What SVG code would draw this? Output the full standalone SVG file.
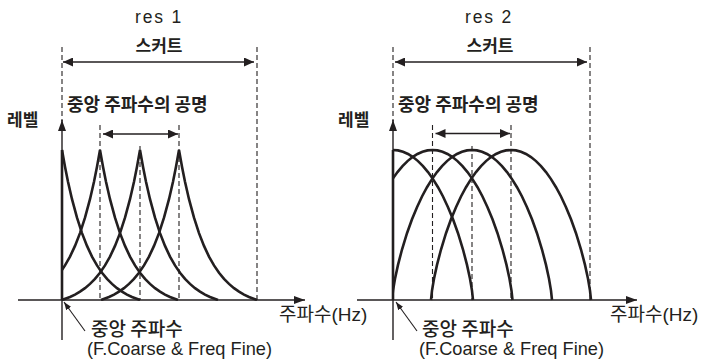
<svg xmlns="http://www.w3.org/2000/svg" xmlns:xlink="http://www.w3.org/1999/xlink" width="701" height="360" viewBox="0 0 701 360">
<style>
.curve{fill:none;stroke:#231f20;stroke-width:2.6;stroke-linejoin:miter}
.axis{fill:none;stroke:#231f20;stroke-width:1.4}
.thick{fill:none;stroke:#231f20;stroke-width:2.6}
.dash{fill:none;stroke:#231f20;stroke-width:1.1;stroke-dasharray:5 3}
.dim{fill:none;stroke:#231f20;stroke-width:1.5;marker-start:url(#ah);marker-end:url(#ah)}
.ptr{fill:none;stroke:#231f20;stroke-width:1.1;marker-end:url(#ph)}
.t{font-family:"Liberation Sans","Noto Sans CJK KR",sans-serif;fill:#231f20}
.kb{font-family:"Noto Sans CJK KR",sans-serif;font-weight:bold;fill:#231f20}
.kr{font-family:"Noto Sans CJK KR",sans-serif;font-weight:500;fill:#231f20}
</style>
<defs>
<marker id="ah" viewBox="0 0 10 9" markerWidth="10" markerHeight="9" refX="10" refY="4.5" orient="auto-start-reverse" markerUnits="userSpaceOnUse"><path d="M0,0 L10,4.5 L0,9 z" fill="#231f20"/></marker>
<marker id="ax" viewBox="0 0 11 8" markerWidth="11" markerHeight="8" refX="11" refY="4" orient="auto" markerUnits="userSpaceOnUse"><path d="M0,0 L11,4 L0,8 z" fill="#231f20"/></marker>
<marker id="ph" viewBox="0 0 8 6" markerWidth="8" markerHeight="6" refX="8" refY="3" orient="auto" markerUnits="userSpaceOnUse"><path d="M0,0 L8,3 L0,6 z" fill="#231f20"/></marker>
<path id="peak" d="M-78,0 L-70,-3 L-65,-5.45 L-60,-8.4 L-55,-11.85 L-50,-16.1 L-45,-21.1 L-40,-27.2 L-35,-34.6 L-30,-43.4 L-25,-54.1 L-20,-66.9 L-15,-82.3 L-10,-100.8 L-6,-118.3 L-3,-133.2 L0,-150 L3,-133.2 L6,-118.3 L10,-100.8 L15,-82.3 L20,-66.9 L25,-54.1 L30,-43.4 L35,-34.6 L40,-27.2 L45,-21.1 L50,-16.1 L55,-11.85 L60,-8.4 L65,-5.45 L70,-3 L78,0"/>
<path id="hump" d="M-80,0 L-79,-9.4 L-77,-21.2 L-74,-35.1 L-70,-50.5 L-65,-66.8 L-60,-80.7 L-55,-92.8 L-50,-103.5 L-45,-112.8 L-40,-120.9 L-35,-127.9 L-30,-133.9 L-25,-138.9 L-20,-142.9 L-15,-146 L-10,-148.2 L-5,-149.6 L0,-150 L5,-149.6 L10,-148.2 L15,-146 L20,-142.9 L25,-138.9 L30,-133.9 L35,-127.9 L40,-120.9 L45,-112.8 L50,-103.5 L55,-92.8 L60,-80.7 L65,-66.8 L70,-50.5 L74,-35.1 L77,-21.2 L79,-9.4 L80,0"/>
<clipPath id="clipL"><rect x="62" y="100" width="260" height="201"/></clipPath>
<clipPath id="clipR"><rect x="393" y="100" width="260" height="201"/></clipPath>
</defs>

<g id="res1">
  <g id="res1-labels">
    <text class="t" x="159" y="23" font-size="17.5" letter-spacing="1.8" text-anchor="middle">res 1</text>
    <text class="kb" x="159" y="52" font-size="17" text-anchor="middle">스커트</text>
    <text class="kb" x="67" y="111" font-size="18">중앙 주파수의 공명</text>
    <text class="kb" x="7" y="126" font-size="17">레벨</text>
    <text class="t" x="279" y="321" font-size="19">주파수(Hz)</text>
    <text class="kr" x="91" y="336" font-size="19">중앙 주파수</text>
    <text class="t" x="87" y="355" font-size="18.2">(F.Coarse &amp; Freq Fine)</text>
  </g>
  <g id="res1-curves" clip-path="url(#clipL)">
    <use href="#peak" x="62" y="300" class="curve"/>
    <use href="#peak" x="100" y="300" class="curve"/>
    <use href="#peak" x="140" y="300" class="curve"/>
    <use href="#peak" x="179" y="300" class="curve"/>
  </g>
  <line class="thick" x1="62" y1="150" x2="62" y2="300"/>
</g>

<g id="res2">
  <g id="res2-labels">
    <text class="t" x="489" y="23" font-size="17.5" letter-spacing="1.8" text-anchor="middle">res 2</text>
    <text class="kb" x="490" y="52" font-size="17" text-anchor="middle">스커트</text>
    <text class="kb" x="398" y="111" font-size="18">중앙 주파수의 공명</text>
    <text class="kb" x="338" y="126" font-size="17">레벨</text>
    <text class="t" x="610" y="321" font-size="19">주파수(Hz)</text>
    <text class="kr" x="422" y="336" font-size="19">중앙 주파수</text>
    <text class="t" x="419" y="355" font-size="18.2">(F.Coarse &amp; Freq Fine)</text>
  </g>
  <g id="res2-curves" clip-path="url(#clipR)">
    <use href="#hump" x="393" y="300" class="curve"/>
    <use href="#hump" x="432.5" y="300" class="curve"/>
    <use href="#hump" x="472" y="300" class="curve"/>
    <use href="#hump" x="511" y="300" class="curve"/>
  </g>
  <line class="thick" x1="393" y1="150" x2="393" y2="300"/>
</g>

<g id="connectors">
  <line class="dash" x1="62" y1="47" x2="62" y2="121"/>
  <line class="dash" x1="100" y1="125" x2="100" y2="300"/>
  <line class="dash" x1="140" y1="146" x2="140" y2="300"/>
  <line class="dash" x1="179" y1="125" x2="179" y2="300"/>
  <line class="dash" x1="257" y1="47" x2="257" y2="300"/>
  <line class="dim" x1="63" y1="62" x2="254" y2="62"/>
  <line class="dim" x1="103" y1="134" x2="178" y2="134"/>
  <line class="axis" x1="62" y1="340" x2="62" y2="120" marker-end="url(#ax)"/>
  <line class="axis" x1="18" y1="300" x2="305" y2="300" marker-end="url(#ax)"/>
  <line class="ptr" x1="85" y1="331" x2="64" y2="302"/>
  <line class="dash" x1="393" y1="47" x2="393" y2="121"/>
  <line class="dash" x1="432.5" y1="125" x2="432.5" y2="300"/>
  <line class="dash" x1="472" y1="146" x2="472" y2="300"/>
  <line class="dash" x1="511" y1="125" x2="511" y2="300"/>
  <line class="dash" x1="590" y1="47" x2="590" y2="300"/>
  <line class="dim" x1="395" y1="62" x2="587" y2="62"/>
  <line class="dim" x1="435.5" y1="133.5" x2="510" y2="133.5"/>
  <line class="axis" x1="393" y1="340" x2="393" y2="120" marker-end="url(#ax)"/>
  <line class="axis" x1="357" y1="300" x2="637" y2="300" marker-end="url(#ax)"/>
  <line class="ptr" x1="417" y1="331" x2="396" y2="302"/>
</g>
</svg>
